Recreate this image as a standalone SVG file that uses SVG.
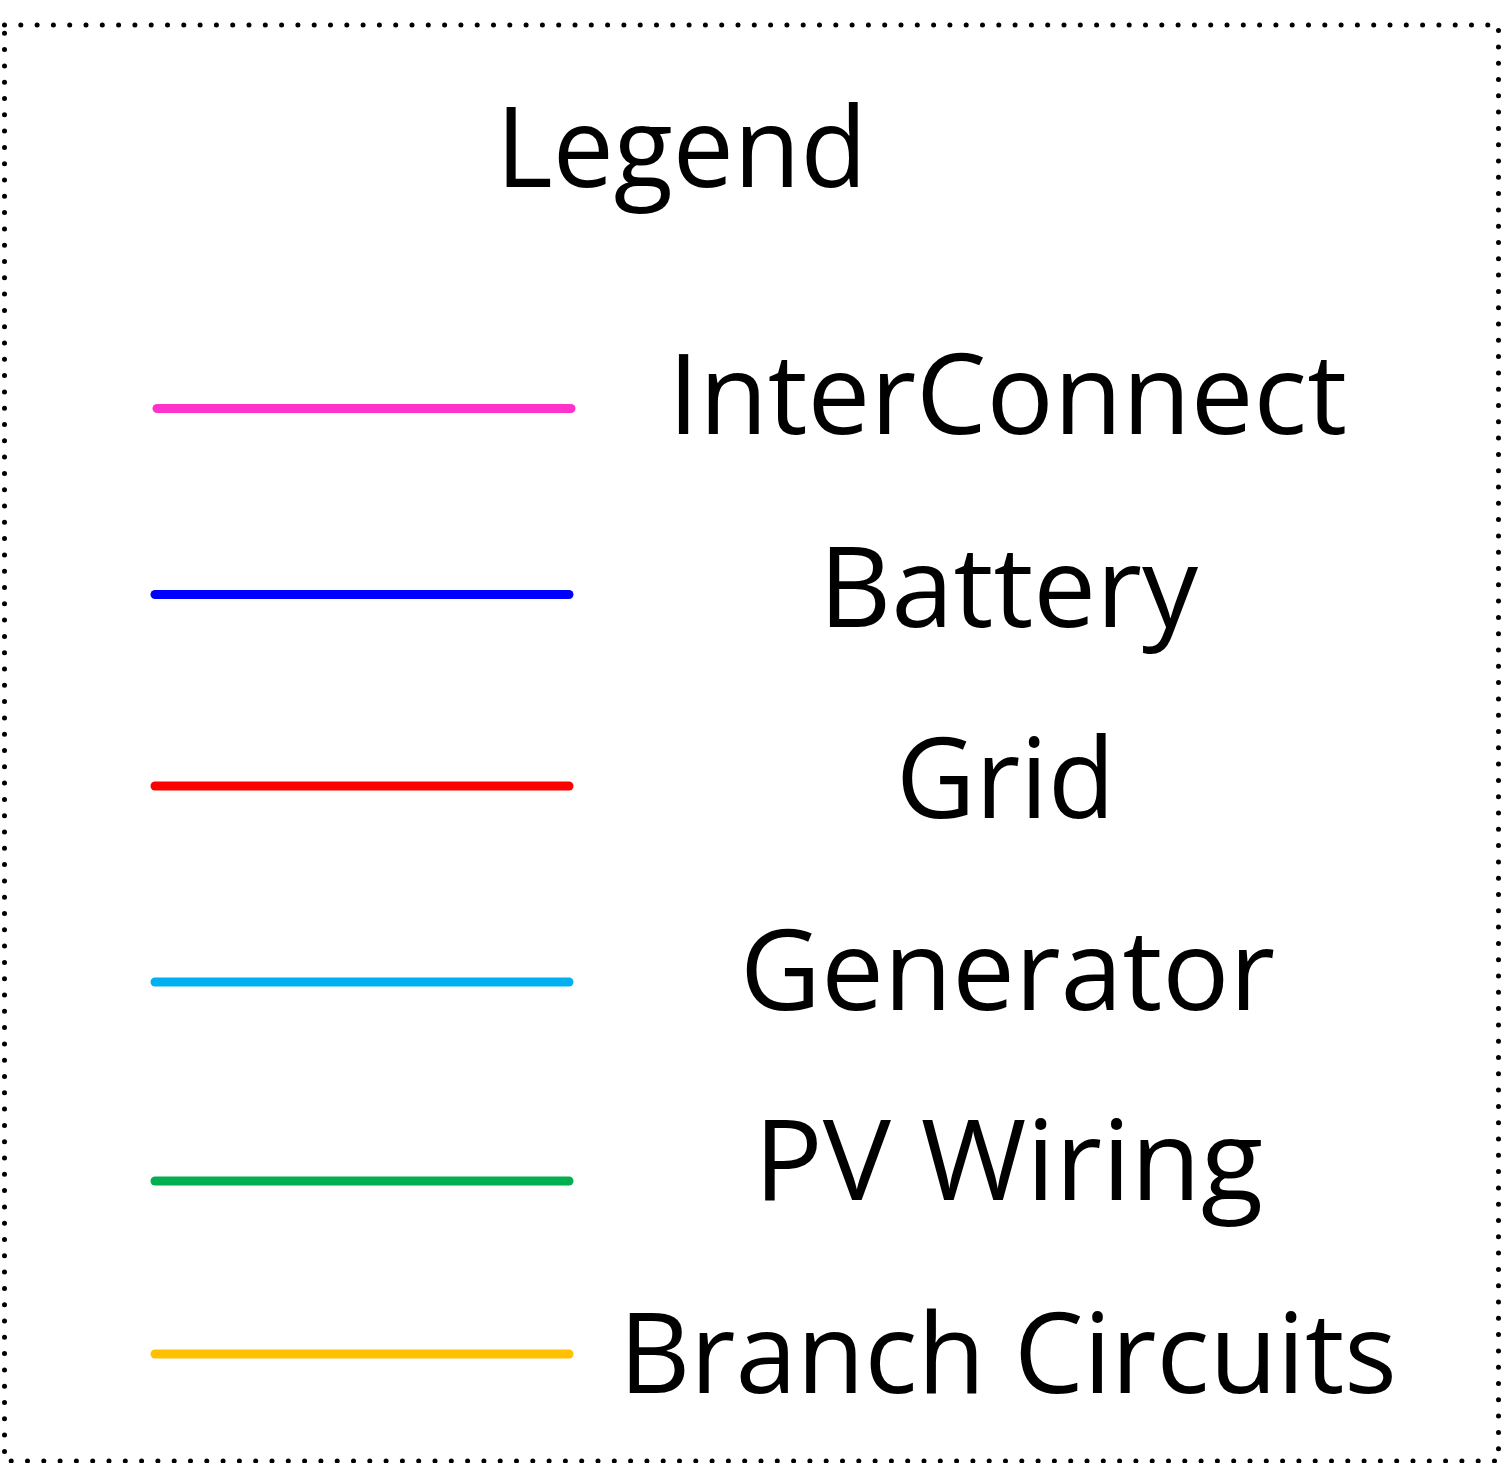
<svg xmlns="http://www.w3.org/2000/svg" width="1504" height="1463" viewBox="0 0 1504 1463">
<style>
.t{font-family:"Open Sans","Noto Sans","Liberation Sans",sans-serif;font-size:112px;fill:#000}
.l{stroke-width:9;stroke-linecap:round;fill:none}
</style>
<rect width="1504" height="1463" fill="#fff"/>
<rect id="frame" x="4.5" y="25" width="1494" height="1436" fill="none" stroke="#000" stroke-width="5" stroke-linecap="round" stroke-dasharray="0 16.3"/>
<g id="title"><text class="t" x="496" y="187" textLength="371" lengthAdjust="spacingAndGlyphs">Legend</text></g>
<g id="connectors">
<line class="l" x1="157" y1="408.5" x2="571" y2="408.5" stroke="#FF33CC"/>
<line class="l" x1="155" y1="594.5" x2="569" y2="594.5" stroke="#0000FF"/>
<line class="l" x1="155" y1="786" x2="569" y2="786" stroke="#FF0000"/>
<line class="l" x1="155" y1="982" x2="569" y2="982" stroke="#00B0F0"/>
<line class="l" x1="155" y1="1181" x2="569" y2="1181" stroke="#00B050"/>
<line class="l" x1="155" y1="1354" x2="569" y2="1354" stroke="#FFC000"/>
</g>
<g id="interconnect"><text class="t" x="668" y="434" textLength="679" lengthAdjust="spacingAndGlyphs">InterConnect</text></g>
<g id="battery"><text class="t" x="819" y="627" textLength="379" lengthAdjust="spacingAndGlyphs">Battery</text></g>
<g id="grid"><text class="t" x="896" y="818" textLength="219" lengthAdjust="spacingAndGlyphs">Grid</text></g>
<g id="generator"><text class="t" x="740" y="1010" textLength="535" lengthAdjust="spacingAndGlyphs">Generator</text></g>
<g id="pvwiring"><text class="t" x="754" y="1200" textLength="509" lengthAdjust="spacingAndGlyphs">PV Wiring</text></g>
<g id="branch"><text class="t" x="619" y="1393" textLength="778" lengthAdjust="spacingAndGlyphs">Branch Circuits</text></g>
</svg>
